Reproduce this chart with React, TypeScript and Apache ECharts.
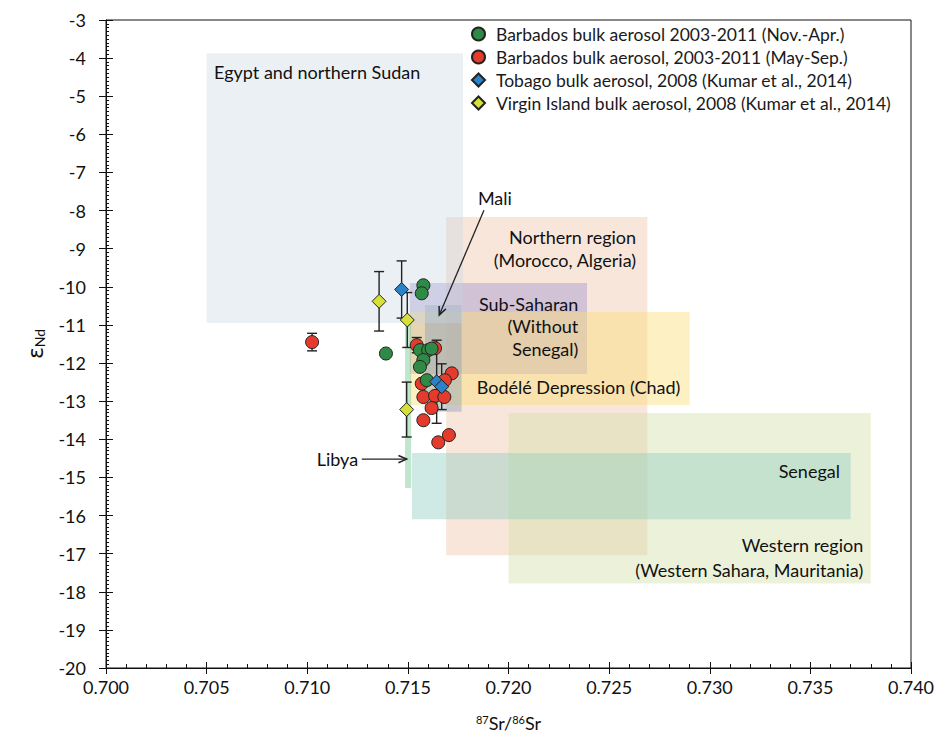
import React, { useEffect, useRef } from "react";
import * as echarts from "echarts";

const FONT = "Lato, 'Open Sans', sans-serif";

// ---------- data ----------
const seriesNames = [
  "Barbados bulk aerosol 2003-2011 (Nov.-Apr.)",
  "Barbados bulk aerosol, 2003-2011 (May-Sep.)",
  "Tobago bulk aerosol, 2008 (Kumar et al., 2014)",
  "Virgin Island bulk aerosol, 2008 (Kumar et al., 2014)",
];

const novAprX = [0.71577, 0.71569, 0.7156, 0.71601, 0.71618, 0.71577, 0.7156, 0.71594, 0.71391];
const novAprY = [-9.96, -10.17, -11.66, -11.66, -11.62, -11.92, -12.1, -12.45, -11.75];
const novAprErr = [0, 0, 0, 0, 0, 0, 0, 0, 0];

const maySepX = [0.71024, 0.71544, 0.71635, 0.71569, 0.71718, 0.71684, 0.71577, 0.71635, 0.71681, 0.71618, 0.71577, 0.71651, 0.71704];
const maySepY = [-11.45, -11.53, -11.61, -12.54, -12.27, -12.45, -12.89, -12.86, -12.89, -13.18, -13.5, -14.08, -13.89];
const maySepErr = [0.23, 0.2, 0, 0, 0, 0, 0, 0, 0, 0, 0, 0, 0];

const tobagoX = [0.71469, 0.71643, 0.71668];
const tobagoY = [-10.07, -12.49, -12.62];
const tobagoErr = [0.75, 1.09, 0.6];

const virginX = [0.71357, 0.71497, 0.71494];
const virginY = [-10.38, -10.87, -13.22];
const virginErr = [0.78, 0.72, 0.72];

// source regions (drawn in this order)
const regionNames = ["Northern", "Western", "Senegal", "SubSaharan", "Bodele", "Mali", "Libya", "Egypt"];
const regionXMin = [0.7169, 0.72, 0.7152, 0.7151, 0.7151, 0.71585, 0.71486, 0.705];
const regionXMax = [0.7269, 0.738, 0.737, 0.7239, 0.729, 0.71767, 0.71516, 0.71774];
const regionYTop = [-8.17, -13.31, -14.36, -9.9, -10.66, -10.48, -10.95, -3.87];
const regionYBottom = [-17.04, -17.78, -16.1, -12.29, -13.1, -13.28, -15.28, -10.95];

const xTicks = { min: 0.7, max: 0.74, step: 0.005 };
const yTicks = { min: -20, max: -3, step: 1 };

// ---------- styles / annotations ----------
const regionColors = [
  "rgba(240,200,175,0.45)",
  "rgba(210,225,165,0.42)",
  "rgba(140,205,190,0.42)",
  "rgba(170,158,210,0.5)",
  "rgba(250,222,120,0.45)",
  "rgba(140,160,185,0.45)",
  "rgba(130,205,155,0.5)",
  "rgba(200,214,226,0.36)",
];

const annotationTexts = [
  "Egypt and northern Sudan",
  "Northern region\n(Morocco, Algeria)",
  "Sub-Saharan\n(Without\nSenegal)",
  "Bodélé Depression (Chad)",
  "Senegal",
  "Western region\n(Western Sahara, Mauritania)",
  "Mali",
  "Libya",
];
const annotationAnchorX = [0.70537, 0.72634, 0.72347, 0.71842, 0.73647, 0.73763, 0.71848, 0.71047];
const annotationAnchorY = [-4.36, -8.99, -11.03, -12.62, -14.83, -17.11, -7.67, -14.52];
const annotationAlign = ["left", "right", "right", "left", "right", "right", "left", "left"];
const annotationLineHeight = [20, 23.5, 22.5, 20, 20, 25, 20, 20];

const arrowFromX = [0.71878, 0.71271];
const arrowFromY = [-7.99, -14.52];
const arrowToX = [0.71656, 0.71494];
const arrowToY = [-10.74, -14.52];

const pointColors = ["#2f8a46", "#e53b2c", "#2b82c9", "#d6e03a"];

function zip(xs: number[], ys: number[]) {
  return xs.map((x, i) => [x, ys[i]]);
}

const errorBarData: number[][] = [];
[
  [maySepX, maySepY, maySepErr],
  [novAprX, novAprY, novAprErr],
  [tobagoX, tobagoY, tobagoErr],
  [virginX, virginY, virginErr],
].forEach(([xs, ys, es]) => {
  xs.forEach((x, i) => {
    if (es[i] > 0) errorBarData.push([x, ys[i], es[i]]);
  });
});

const regionData = regionNames.map((_, i) => [regionXMin[i], regionYTop[i], regionXMax[i], regionYBottom[i], i]);
const annotationData = annotationTexts.map((_, i) => [annotationAnchorX[i], annotationAnchorY[i], i]);
const arrowData = arrowFromX.map((_, i) => [arrowFromX[i], arrowFromY[i], arrowToX[i], arrowToY[i]]);

function buildOption(): any {
  const scatterBase = {
    type: "scatter",
    itemStyle: { borderColor: "#222", borderWidth: 1, opacity: 1 },
    z: 5,
  };
  return {
    animation: false,
    backgroundColor: "#ffffff",
    textStyle: { fontFamily: FONT },
    grid: {
      left: 106,
      right: 32,
      top: 20,
      bottom: 72,
      show: true,
      borderColor: "#111",
      borderWidth: 1,
      backgroundColor: "transparent",
    },
    legend: {
      data: seriesNames,
      orient: "vertical",
      left: 471,
      top: 25,
      itemWidth: 13,
      itemHeight: 13,
      itemGap: 5,
      textStyle: {
        fontSize: 17.5,
        fontFamily: FONT,
        color: "#1a1a1a",
        lineHeight: 17,
        padding: [0, 0, 0, 6],
      },
      backgroundColor: "#ffffff",
      padding: [0, 4, 0, 0],
    },
    xAxis: [
      {
        type: "value",
        min: xTicks.min,
        max: xTicks.max,
        interval: xTicks.step,
        position: "bottom",
        axisLine: { show: true, onZero: false, lineStyle: { color: "#111", width: 1 } },
        axisTick: { show: true, inside: false, length: 6, lineStyle: { color: "#111" } },
        axisLabel: {
          formatter: (v: number) => v.toFixed(3),
          fontSize: 18,
          color: "#111",
          margin: 10,
          fontFamily: FONT,
        },
        splitLine: { show: false },
        name: "{p|87}Sr/{p|86}Sr",
        nameLocation: "middle",
        nameGap: 46,
        nameTextStyle: {
          fontSize: 18,
          color: "#111",
          fontFamily: FONT,
          rich: { p: { fontSize: 11, verticalAlign: "top", fontFamily: FONT, color: "#111" } },
        },
      },
      {
        type: "value",
        min: xTicks.min,
        max: xTicks.max,
        interval: xTicks.step,
        position: "bottom",
        axisLine: { show: false, onZero: false },
        axisTick: { show: true, inside: true, length: 6, lineStyle: { color: "#111" } },
        minorTick: { show: true, splitNumber: 5, length: 4, lineStyle: { color: "#111" } },
        axisLabel: { show: false },
        splitLine: { show: false },
      },
    ],
    yAxis: [
      {
        type: "value",
        min: yTicks.min,
        max: yTicks.max,
        interval: yTicks.step,
        position: "left",
        axisLine: { show: true, onZero: false, lineStyle: { color: "#111", width: 1 } },
        axisTick: { show: true, inside: false, length: 7, lineStyle: { color: "#111" } },
        axisLabel: { fontSize: 18, color: "#111", margin: 20, fontFamily: FONT },
        splitLine: { show: false },
        name: "{e|ε}{s|Nd}",
        nameLocation: "middle",
        nameGap: 60,
        nameRotate: 90,
        nameTextStyle: {
          color: "#111",
          rich: {
            e: { fontSize: 22, fontFamily: "'DejaVu Sans', sans-serif", color: "#111" },
            s: { fontSize: 14, verticalAlign: "bottom", fontFamily: FONT, color: "#111" },
          },
        },
      },
      {
        type: "value",
        min: yTicks.min,
        max: yTicks.max,
        interval: yTicks.step,
        position: "left",
        axisLine: { show: false, onZero: false },
        axisTick: { show: true, inside: true, length: 7, lineStyle: { color: "#111" } },
        minorTick: { show: true, splitNumber: 10, length: 3, lineStyle: { color: "#111" } },
        axisLabel: { show: false },
        splitLine: { show: false },
      },
    ],
    series: [
      {
        type: "custom",
        name: "regions",
        silent: true,
        z: 1,
        data: regionData,
        encode: { x: [0, 2], y: [1, 3] },
        renderItem: (params: any, api: any) => {
          const p0 = api.coord([api.value(0), api.value(1)]);
          const p1 = api.coord([api.value(2), api.value(3)]);
          const idx = api.value(4);
          return {
            type: "rect",
            shape: {
              x: Math.min(p0[0], p1[0]),
              y: Math.min(p0[1], p1[1]),
              width: Math.abs(p1[0] - p0[0]),
              height: Math.abs(p1[1] - p0[1]),
            },
            style: { fill: regionColors[idx] },
          };
        },
      },
      {
        type: "custom",
        name: "annotations",
        silent: true,
        z: 3,
        data: annotationData,
        encode: { x: 0, y: 1 },
        renderItem: (params: any, api: any) => {
          const p = api.coord([api.value(0), api.value(1)]);
          const idx = api.value(2);
          return {
            type: "text",
            x: p[0],
            y: p[1],
            style: {
              text: annotationTexts[idx],
              align: annotationAlign[idx],
              verticalAlign: "middle",
              fontSize: 18,
              fontFamily: FONT,
              lineHeight: annotationLineHeight[idx],
              fill: "#111",
            },
          };
        },
      },
      {
        type: "custom",
        name: "arrows",
        silent: true,
        z: 3,
        data: arrowData,
        encode: { x: [0, 2], y: [1, 3] },
        renderItem: (params: any, api: any) => {
          const a = api.coord([api.value(0), api.value(1)]);
          const b = api.coord([api.value(2), api.value(3)]);
          const ang = Math.atan2(b[1] - a[1], b[0] - a[0]);
          const L = 9;
          const w = 0.42;
          const h1 = [b[0] - L * Math.cos(ang - w), b[1] - L * Math.sin(ang - w)];
          const h2 = [b[0] - L * Math.cos(ang + w), b[1] - L * Math.sin(ang + w)];
          return {
            type: "group",
            children: [
              {
                type: "line",
                shape: { x1: a[0], y1: a[1], x2: b[0], y2: b[1] },
                style: { stroke: "#222", lineWidth: 1.3 },
              },
              {
                type: "polyline",
                shape: { points: [h1, b, h2] },
                style: { stroke: "#222", lineWidth: 1.5, fill: "none" },
              },
            ],
          };
        },
      },
      {
        type: "custom",
        name: "errorbars",
        silent: true,
        z: 4,
        data: errorBarData,
        encode: { x: 0, y: 1 },
        renderItem: (params: any, api: any) => {
          const x = api.value(0);
          const y = api.value(1);
          const e = api.value(2);
          const t = api.coord([x, y + e]);
          const b = api.coord([x, y - e]);
          const hw = 5;
          const st = { stroke: "#222", lineWidth: 1.4 };
          return {
            type: "group",
            children: [
              { type: "line", shape: { x1: t[0], y1: t[1], x2: b[0], y2: b[1] }, style: st },
              { type: "line", shape: { x1: t[0] - hw, y1: t[1], x2: t[0] + hw, y2: t[1] }, style: st },
              { type: "line", shape: { x1: b[0] - hw, y1: b[1], x2: b[0] + hw, y2: b[1] }, style: st },
            ],
          };
        },
      },
      {
        ...scatterBase,
        name: seriesNames[1],
        symbol: "circle",
        symbolSize: 13,
        data: zip(maySepX, maySepY),
        itemStyle: { ...scatterBase.itemStyle, color: pointColors[1] },
      },
      {
        ...scatterBase,
        name: seriesNames[0],
        symbol: "circle",
        symbolSize: 13,
        data: zip(novAprX, novAprY),
        itemStyle: { ...scatterBase.itemStyle, color: pointColors[0] },
      },
      {
        ...scatterBase,
        name: seriesNames[2],
        symbol: "diamond",
        symbolSize: 14,
        data: zip(tobagoX, tobagoY),
        itemStyle: { ...scatterBase.itemStyle, color: pointColors[2] },
      },
      {
        ...scatterBase,
        name: seriesNames[3],
        symbol: "diamond",
        symbolSize: 14,
        data: zip(virginX, virginY),
        itemStyle: { ...scatterBase.itemStyle, color: pointColors[3] },
      },
    ],
  };
}

export default function App() {
  const ref = useRef<HTMLDivElement>(null);
  useEffect(() => {
    document.body.style.margin = "0";
    const chart = echarts.init(ref.current!, null, { renderer: "svg" });
    chart.setOption(buildOption());
    return () => chart.dispose();
  }, []);
  return <div ref={ref} style={{ width: 943, height: 740 }} />;
}
